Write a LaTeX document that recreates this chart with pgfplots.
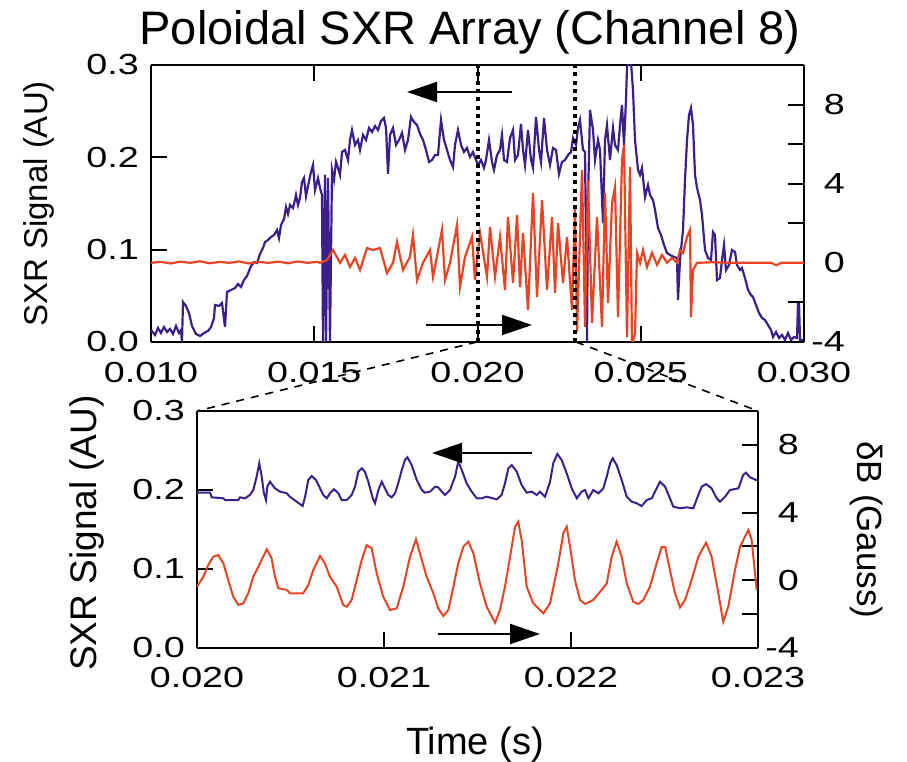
\documentclass[border=0pt]{standalone}
\usepackage{fontspec}
\setmainfont{Liberation Sans}
\newfontfamily\tickfont{Liberation Sans}[FakeStretch=1.3]
\usepackage{pgfplots}
\pgfplotsset{compat=1.18}
\usetikzlibrary{arrows.meta}
\definecolor{sxrblue}{RGB}{59,32,140}
\definecolor{dbred}{RGB}{232,68,36}
\pgfplotsset{
 base/.style={scale only axis, axis line style={line width=2.2pt},
   tick style={line width=2pt, black}, major tick length=16pt, minor tick length=16pt,
   tick align=inside, tick label style={font=\tickfont\fontsize{29}{32}\selectfont},
   /pgf/number format/assume math mode=true, scaled x ticks=false, scaled y ticks=false},
 topbox/.style={base, at={(151pt,420pt)}, anchor=south west, width=653pt, height=277pt,
   xmin=0.010, xmax=0.030, xtick={0.010,0.015,0.020,0.025,0.030}},
 botbox/.style={base, at={(197pt,114pt)}, anchor=south west, width=561pt, height=237pt,
   xmin=0.020, xmax=0.023, xtick={0.020,0.021,0.022,0.023}},
 leftax/.style={axis y line*=left, ymin=0, ymax=0.3, ytick={0,0.1,0.2,0.3},
   yticklabel style={/pgf/number format/fixed, /pgf/number format/fixed zerofill, /pgf/number format/precision=1,
     anchor=east, inner sep=0pt, xshift=-12pt}},
 xlab/.style={xticklabel style={/pgf/number format/fixed, /pgf/number format/fixed zerofill, /pgf/number format/precision=3,
     anchor=north, inner sep=0pt, yshift=#1}},
 rightax/.style={axis y line*=right, axis x line=none, ymin=-4, ymax=10, ytick={-4,0,4,8},
   yticklabel style={anchor=east, inner sep=0pt, xshift=41pt}},
}
\begin{document}
\begin{tikzpicture}
\useasboundingbox (0,0) rectangle (907pt,762pt);
% ---------------- top panel ----------------
\begin{axis}[topbox, leftax, xlab=-20pt]
\addplot[sxrblue, line width=2.2pt] coordinates {
(0.010000,0.013) (0.010123,0.0076) (0.010214,0.0152) (0.010306,0.0097) (0.010398,0.0162)
(0.010490,0.0108) (0.010582,0.0141) (0.010674,0.0087) (0.010766,0.0173) (0.010858,0.0097)
(0.010919,0.013) (0.010949,0.0) (0.010980,0.0433) (0.011072,0.039) (0.011164,0.0314)
(0.011256,0.0173) (0.011378,0.0087) (0.011501,0.0065) (0.011623,0.0097) (0.011746,0.0119)
(0.011838,0.0162) (0.011930,0.026) (0.011960,0.0401) (0.012083,0.039) (0.012175,0.0422)
(0.012266,0.0162) (0.012328,0.0542) (0.012450,0.0563) (0.012573,0.0585) (0.012665,0.0628)
(0.012757,0.0596) (0.012848,0.0671) (0.012940,0.0715) (0.013002,0.0769) (0.013063,0.0823)
(0.013155,0.0866) (0.013247,0.0856) (0.013338,0.0953) (0.013430,0.1018) (0.013492,0.1083)
(0.013583,0.1105) (0.013675,0.1137) (0.013767,0.1159) (0.013859,0.1213) (0.013920,0.1126)
(0.013982,0.1267) (0.014074,0.1332) (0.014135,0.1462) (0.014196,0.1386) (0.014257,0.1484)
(0.014349,0.1451) (0.014410,0.1538) (0.014441,0.1592) (0.014502,0.1484) (0.014564,0.156)
(0.014625,0.1733) (0.014686,0.1776) (0.014747,0.1581) (0.014809,0.169) (0.014900,0.1841)
(0.014962,0.1917) (0.015023,0.1646) (0.015115,0.1776) (0.015176,0.1668) (0.015237,0.1592)
(0.015268,0.0) (0.015329,0.1809) (0.015360,0.0) (0.015421,0.1776) (0.015482,0.0)
(0.015544,0.1863) (0.015605,0.1755) (0.015666,0.195) (0.015727,0.1885) (0.015789,0.1809)
(0.015850,0.2058) (0.015942,0.208) (0.016034,0.1971) (0.016095,0.2188) (0.016156,0.2296)
(0.016248,0.2134) (0.016340,0.2188) (0.016401,0.208) (0.016493,0.2242) (0.016585,0.2188)
(0.016677,0.2318) (0.016769,0.2274) (0.016861,0.2339) (0.016953,0.2296) (0.017044,0.2394)
(0.017136,0.2426) (0.017198,0.2318) (0.017259,0.182) (0.017320,0.2242) (0.017412,0.2318)
(0.017504,0.2134) (0.017596,0.2188) (0.017688,0.2264) (0.017780,0.208) (0.017871,0.2188)
(0.017963,0.2437) (0.018055,0.2383) (0.018147,0.235) (0.018239,0.2253) (0.018331,0.2188)
(0.018423,0.208) (0.018515,0.195) (0.018606,0.1971) (0.018698,0.2025) (0.018790,0.2025)
(0.018882,0.2404) (0.018974,0.2188) (0.019066,0.208) (0.019158,0.1971) (0.019250,0.1895)
(0.019311,0.2134) (0.019403,0.2296) (0.019495,0.2134) (0.019587,0.2058) (0.019678,0.2101)
(0.019770,0.2004) (0.019862,0.2058) (0.019954,0.1971) (0.020015,0.1917) (0.020107,0.1971)
(0.020199,0.1885) (0.020260,0.1971) (0.020352,0.2188) (0.020444,0.195) (0.020505,0.1863)
(0.020597,0.2025) (0.020689,0.208) (0.020750,0.2242) (0.020812,0.1971) (0.020904,0.195)
(0.020995,0.2209) (0.021087,0.2296) (0.021149,0.1971) (0.021240,0.2025) (0.021332,0.2361)
(0.021394,0.208) (0.021455,0.1917) (0.021547,0.2296) (0.021639,0.1971) (0.021700,0.1885)
(0.021792,0.2437) (0.021884,0.208) (0.021945,0.195) (0.022037,0.2426) (0.022129,0.208)
(0.022221,0.1917) (0.022312,0.2101) (0.022404,0.208) (0.022496,0.182) (0.022588,0.195)
(0.022680,0.1971) (0.022772,0.2025) (0.022864,0.2058) (0.022925,0.2209) (0.023017,0.2134)
(0.023078,0.2318) (0.023139,0.2404) (0.023231,0.208) (0.023293,0.2058) (0.023354,0.0)
(0.023384,0.1538) (0.023446,0.2513) (0.023538,0.2296) (0.023599,0.1971) (0.023691,0.2188)
(0.023752,0.208) (0.023844,0.1289) (0.023905,0.2188) (0.023966,0.235) (0.024058,0.1971)
(0.024150,0.2318) (0.024211,0.2134) (0.024303,0.208) (0.024365,0.235) (0.024426,0.2567)
(0.024487,0.2134) (0.024548,0.2621) (0.024579,0.2978) (0.024640,0.3033) (0.024701,0.3033)
(0.024762,0.2729) (0.024824,0.2188) (0.024916,0.1863) (0.024977,0.1809) (0.025038,0.1885)
(0.025130,0.157) (0.025222,0.17) (0.025283,0.1592) (0.025375,0.1538) (0.025437,0.143)
(0.025528,0.1235) (0.025620,0.1159) (0.025712,0.1051) (0.025804,0.0964) (0.025896,0.0942)
(0.026018,0.0921) (0.026110,0.091) (0.026141,0.0455) (0.026202,0.0888) (0.026294,0.1213)
(0.026355,0.1755) (0.026417,0.2188) (0.026478,0.2459) (0.026539,0.2534) (0.026600,0.235)
(0.026662,0.1809) (0.026723,0.1668) (0.026815,0.1538) (0.026876,0.1375) (0.026968,0.0996)
(0.027060,0.091) (0.027152,0.0888) (0.027213,0.1191) (0.027274,0.1159) (0.027335,0.0671)
(0.027427,0.0693) (0.027489,0.0888) (0.027550,0.1051) (0.027611,0.078) (0.027703,0.0834)
(0.027795,0.0996) (0.027887,0.0975) (0.027948,0.0834) (0.028040,0.078) (0.028101,0.0801)
(0.028193,0.0693) (0.028285,0.0563) (0.028377,0.0509) (0.028438,0.0487) (0.028530,0.0401)
(0.028622,0.0314) (0.028714,0.026) (0.028806,0.0238) (0.028897,0.0184) (0.028989,0.013)
(0.029051,0.0054) (0.029143,0.0108) (0.029234,0.0043) (0.029326,0.0076) (0.029418,0.0022)
(0.029510,0.0097) (0.029602,0.0022) (0.029694,0.0054) (0.029786,0.0043) (0.029816,0.0422)
(0.029847,0.0422) (0.029878,0.0022) (0.029969,0.0022)
};
\end{axis}
\begin{axis}[topbox, rightax, minor ytick={-2,2,6}]
\addplot[dbred, line width=2.2pt] coordinates {
(0.0100,0.0) (0.0103,0.05) (0.0106,-0.03) (0.0109,0.06) (0.0112,0.0) (0.0115,0.08)
(0.0118,-0.02) (0.0121,0.05) (0.0124,0.0) (0.0127,0.07) (0.0130,-0.03) (0.0133,0.05)
(0.0136,0.0) (0.0139,0.06) (0.0142,-0.02) (0.0145,0.07) (0.0148,0.0) (0.0151,0.05)
(0.015176,0.0) (0.015391,0.14) (0.015574,0.65) (0.015789,0.0) (0.015942,0.40) (0.016095,-0.21)
(0.016248,0.25) (0.016401,-0.36) (0.016616,0.75) (0.016799,0.65) (0.017014,0.75) (0.017228,-0.52)
(0.017412,0.0) (0.017534,1.05) (0.017718,-0.36) (0.017933,0.30) (0.018024,1.41) (0.018147,-0.87)
(0.018331,0.0) (0.018545,0.65) (0.018637,-0.71) (0.018913,1.66) (0.019005,-0.87) (0.019158,0.0)
(0.019372,1.91) (0.019464,-1.22) (0.019617,0.30) (0.019832,1.31) (0.019923,-0.87) (0.020077,1.51)
(0.020291,-0.71) (0.020383,1.81) (0.020536,-0.71) (0.020689,1.31) (0.020842,-1.37) (0.020934,2.32)
(0.021087,-1.02) (0.021210,2.42) (0.021302,-1.22) (0.021394,1.51) (0.021547,-2.38) (0.021700,3.53)
(0.021822,-1.73) (0.021976,3.18) (0.022129,-1.37) (0.022282,2.32) (0.022374,-1.52) (0.022466,2.01)
(0.022619,-1.02) (0.022741,1.31) (0.022894,-2.38) (0.022986,2.82) (0.023048,-3.49) (0.023201,4.69)
(0.023293,-3.24) (0.023384,4.19) (0.023507,-3.04) (0.023660,2.32) (0.023813,-3.24) (0.023905,3.53)
(0.023997,-2.03) (0.024120,3.03) (0.024211,3.83) (0.024303,-2.74) (0.024426,5.20) (0.024487,5.96)
(0.024579,-3.75) (0.024671,4.84) (0.024732,-4.2) (0.024824,-3.55) (0.024885,0.5) (0.024977,0.0)
(0.025069,0.65) (0.025191,-0.21) (0.025345,0.5) (0.025498,-0.1) (0.025651,0.4) (0.025804,0.0)
(0.025957,0.25) (0.026110,0.0) (0.026202,0.65) (0.026294,0.5) (0.026417,1.31) (0.026509,1.66)
(0.026539,-2.74) (0.026600,-0.36) (0.026723,0.0) (0.0272,0.03) (0.0278,0.0) (0.0285,0.0)
(0.0290,0.0) (0.02915,-0.12) (0.0293,0.0) (0.0300,0.0)
};
\draw[black, line width=4pt, dash pattern=on 4pt off 4.3pt] (axis cs:0.020,-4) -- (axis cs:0.020,10);
\draw[black, line width=4pt, dash pattern=on 4pt off 4.3pt] (axis cs:0.023,-4) -- (axis cs:0.023,10);
\end{axis}
% ---------------- bottom panel ----------------
\begin{axis}[botbox, leftax, xtick pos=left, xlab=-19pt]
\addplot[sxrblue, line width=2pt] coordinates {
(0.020000,0.1966) (0.020070,0.1966) (0.020079,0.1907) (0.020141,0.1895) (0.020150,0.1873)
(0.020221,0.1873) (0.020230,0.1907) (0.020257,0.1895) (0.020283,0.1937) (0.020301,0.2)
(0.020319,0.2169) (0.020333,0.2338) (0.020346,0.2169) (0.020358,0.1958) (0.020369,0.1873)
(0.020376,0.2042) (0.020390,0.2105) (0.020417,0.2021) (0.020444,0.1979) (0.020480,0.1958)
(0.020497,0.1915) (0.020533,0.1852) (0.020565,0.1797) (0.020578,0.1915) (0.020595,0.2127)
(0.020613,0.2177) (0.020636,0.2127) (0.020658,0.2021) (0.020675,0.1937) (0.020694,0.1895)
(0.020711,0.1958) (0.020733,0.2009) (0.020756,0.1958) (0.020774,0.1873) (0.020801,0.1873)
(0.020827,0.1937) (0.020845,0.2042) (0.020863,0.2232) (0.020881,0.2274) (0.020898,0.2232)
(0.020916,0.2105) (0.020940,0.1895) (0.020952,0.1832) (0.020970,0.2) (0.020988,0.2105)
(0.021005,0.2021) (0.021023,0.1937) (0.021041,0.1907) (0.021059,0.1958) (0.021076,0.2084)
(0.021095,0.2253) (0.021112,0.238) (0.021125,0.2414) (0.021148,0.2316) (0.021175,0.2127)
(0.021202,0.2) (0.021219,0.1966) (0.021246,0.1979) (0.021273,0.2042) (0.021290,0.2034)
(0.021309,0.1979) (0.021326,0.1937) (0.021353,0.2) (0.021380,0.2169) (0.021397,0.2359)
(0.021416,0.2253) (0.021442,0.2084) (0.021469,0.1979) (0.021496,0.1895) (0.021522,0.1895)
(0.021549,0.1915) (0.021603,0.1882) (0.021629,0.1937) (0.021647,0.2084) (0.021665,0.2274)
(0.021683,0.2316) (0.021710,0.2232) (0.021736,0.2063) (0.021763,0.1966) (0.021790,0.1979)
(0.021817,0.1937) (0.021834,0.1979) (0.021861,0.1915) (0.021888,0.2105) (0.021905,0.2338)
(0.021927,0.2456) (0.021950,0.238) (0.021977,0.2211) (0.022004,0.2021) (0.022031,0.1895)
(0.022057,0.1979) (0.022075,0.2) (0.022093,0.1895) (0.022119,0.2) (0.022146,0.1958)
(0.022173,0.2021) (0.022191,0.2169) (0.022209,0.2338) (0.022223,0.2401) (0.022244,0.2316)
(0.022271,0.2127) (0.022298,0.1915) (0.022325,0.1852) (0.022351,0.1832) (0.022378,0.1797)
(0.022405,0.1873) (0.022432,0.1895) (0.022449,0.1979) (0.022476,0.2105) (0.022503,0.2042)
(0.022529,0.1895) (0.022547,0.1789) (0.022583,0.1768) (0.022619,0.1781) (0.022654,0.1768)
(0.022681,0.1937) (0.022699,0.2042) (0.022722,0.2076) (0.022752,0.2021) (0.022779,0.1895)
(0.022797,0.1852) (0.022824,0.1915) (0.022850,0.2) (0.022895,0.2021) (0.022921,0.219)
(0.022936,0.2219) (0.022957,0.2161) (0.022989,0.2127) (0.023000,0.2127)
};
\end{axis}
\begin{axis}[botbox, rightax, minor ytick={-2,2}]
\addplot[dbred, line width=2pt] coordinates {
(0.020000,-0.38) (0.020034,0.21) (0.020060,0.90) (0.020087,1.39) (0.020114,1.49) (0.020141,1.00)
(0.020167,0.02) (0.020194,-0.97) (0.020221,-1.46) (0.020248,-1.36) (0.020274,-0.77) (0.020301,0.21)
(0.020337,1.00) (0.020373,1.83) (0.020399,1.30) (0.020417,0.21) (0.020435,-0.47) (0.020480,-0.57)
(0.020497,-0.77) (0.020568,-0.77) (0.020595,-0.28) (0.020622,0.61) (0.020658,1.43) (0.020684,1.00)
(0.020711,0.21) (0.020747,-0.38) (0.020782,-1.46) (0.020801,-1.56) (0.020827,-1.16) (0.020854,0.02)
(0.020881,1.20) (0.020907,2.08) (0.020934,1.89) (0.020961,0.41) (0.020996,-0.97) (0.021032,-1.76)
(0.021068,-1.66) (0.021103,-0.38) (0.021139,1.39) (0.021171,2.42) (0.021202,1.20) (0.021228,0.21)
(0.021264,-0.77) (0.021290,-1.66) (0.021317,-2.11) (0.021344,-1.76) (0.021371,-0.38) (0.021397,1.00)
(0.021424,1.98) (0.021451,2.28) (0.021478,1.59) (0.021513,-0.18) (0.021549,-1.56) (0.021594,-2.51)
(0.021620,-1.76) (0.021647,-0.38) (0.021674,1.39) (0.021701,3.17) (0.021718,3.46) (0.021736,2.38)
(0.021763,-0.38) (0.021798,-1.36) (0.021852,-1.95) (0.021888,-1.36) (0.021932,1.00) (0.021959,2.78)
(0.021977,3.17) (0.021995,1.98) (0.022021,0.02) (0.022048,-1.16) (0.022075,-1.40) (0.022119,-1.16)
(0.022164,-0.57) (0.022191,-0.18) (0.022218,1.39) (0.022244,2.28) (0.022271,1.39) (0.022298,-0.18)
(0.022333,-1.27) (0.022360,-1.40) (0.022387,-1.16) (0.022422,-0.38) (0.022458,1.00) (0.022485,1.98)
(0.022503,1.98) (0.022529,0.61) (0.022556,-0.77) (0.022583,-1.60) (0.022610,-1.16) (0.022645,0.02)
(0.022681,1.39) (0.022722,2.22) (0.022752,1.39) (0.022788,-0.77) (0.022814,-2.45) (0.022841,-1.56)
(0.022877,0.61) (0.022904,1.98) (0.022948,2.97) (0.022966,2.38) (0.022993,-0.57)
};
\end{axis}
% ---------------- annotations ----------------
\draw[black, line width=1.6pt, dash pattern=on 8pt off 7pt] (477pt,420pt) -- (197pt,351pt);
\draw[black, line width=1.6pt, dash pattern=on 8pt off 7pt] (576pt,420pt) -- (758pt,351pt);
\draw[line width=2pt, -{Triangle[length=30pt,width=20pt]}] (512pt,670pt) -- (407pt,670pt);
\draw[line width=2pt, -{Triangle[length=30pt,width=20pt]}] (426pt,437pt) -- (532pt,437pt);
\draw[line width=2pt, -{Triangle[length=30pt,width=20pt]}] (532pt,309pt) -- (432pt,309pt);
\draw[line width=2pt, -{Triangle[length=30pt,width=20pt]}] (438pt,128pt) -- (540pt,128pt);
\node[anchor=base, inner sep=0pt, font=\fontsize{47}{52}\selectfont] at (470pt,717pt) {Poloidal SXR Array (Channel 8)};
\node[rotate=90, inner sep=0pt, font=\fontsize{33}{38}\selectfont] at (39pt,558pt) {SXR Signal (AU)};
\node[rotate=90, inner sep=0pt, font=\fontsize{37}{42}\selectfont] at (87pt,229pt) {SXR Signal (AU)};
\node[rotate=-90, inner sep=0pt, font=\fontsize{35}{40}\selectfont] at (867pt,232pt) {δB (Gauss)};
\node[anchor=base, inner sep=0pt, font=\fontsize{38}{42}\selectfont] at (475pt,7pt) {Time (s)};
\end{tikzpicture}
\end{document}
